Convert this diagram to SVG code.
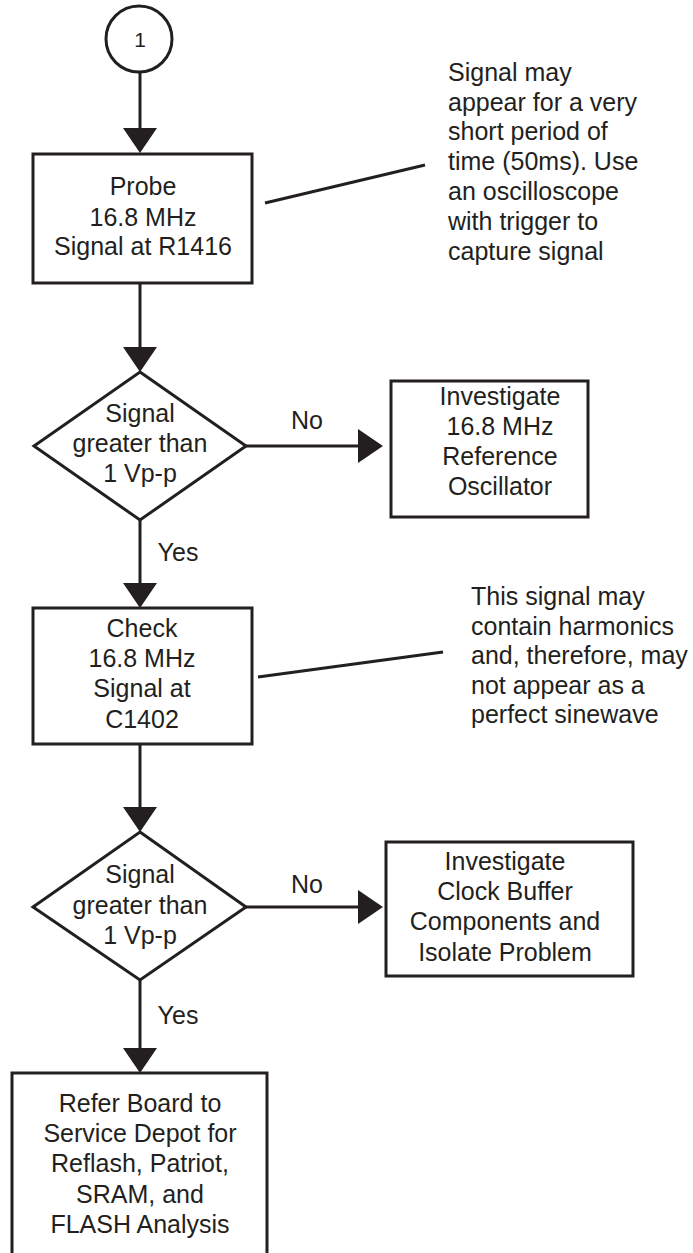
<svg xmlns="http://www.w3.org/2000/svg" width="693" height="1253" viewBox="0 0 693 1253">
  <style>
    .shape { fill: #ffffff; stroke: #231f20; stroke-width: 3; }
    .wire { fill: none; stroke: #231f20; stroke-width: 3; }
    .lbl { font-family: "Liberation Sans", Arial, sans-serif; font-size: 25px; fill: #231f20; text-anchor: middle; }
    .note { font-family: "Liberation Sans", Arial, sans-serif; font-size: 25px; fill: #231f20; }
    .num { font-size: 21px; }
  </style>
  <defs>
    <marker id="head" markerUnits="userSpaceOnUse" markerWidth="26" markerHeight="34" refX="0" refY="17" orient="auto">
      <path d="M0,0 L25,17 L0,34 z" fill="#231f20"/>
    </marker>
  </defs>

  <rect width="693" height="1253" fill="#ffffff"/>

  <!-- connectors -->
  <g id="connectors">
    <line class="wire" x1="140" y1="72" x2="140" y2="128" marker-end="url(#head)"/>
    <line class="wire" x1="140" y1="283" x2="140" y2="347" marker-end="url(#head)"/>
    <line class="wire" x1="246" y1="446" x2="358" y2="446" marker-end="url(#head)"/>
    <line class="wire" x1="140" y1="520" x2="140" y2="583" marker-end="url(#head)"/>
    <line class="wire" x1="140" y1="744" x2="140" y2="807" marker-end="url(#head)"/>
    <line class="wire" x1="246" y1="907" x2="358" y2="907" marker-end="url(#head)"/>
    <line class="wire" x1="140" y1="980" x2="140" y2="1048" marker-end="url(#head)"/>
    <!-- callout leaders -->
    <line class="wire" x1="265" y1="203" x2="425" y2="165"/>
    <line class="wire" x1="258" y1="677" x2="443" y2="652"/>
    <!-- branch labels -->
    <text class="lbl" x="307" y="429">No</text>
    <text class="lbl" x="178" y="561">Yes</text>
    <text class="lbl" x="307" y="893">No</text>
    <text class="lbl" x="178" y="1024">Yes</text>
  </g>

  <!-- connector 1 -->
  <g id="start">
    <circle class="shape" cx="139" cy="39" r="33"/>
    <text class="lbl num" x="140" y="47">1</text>
  </g>

  <g id="probe">
    <rect class="shape" x="33" y="154" width="219" height="129"/>
    <text class="lbl" x="143" y="195">Probe</text>
    <text class="lbl" x="143" y="226">16.8 MHz</text>
    <text class="lbl" x="143" y="255">Signal at R1416</text>
  </g>

  <g id="note-probe">
    <text class="note" x="448" y="81">Signal may</text>
    <text class="note" x="448" y="111">appear for a very</text>
    <text class="note" x="448" y="140">short period of</text>
    <text class="note" x="448" y="170">time (50ms). Use</text>
    <text class="note" x="448" y="200">an oscilloscope</text>
    <text class="note" x="448" y="230">with trigger to</text>
    <text class="note" x="448" y="260">capture signal</text>
  </g>

  <g id="decision-1">
    <polygon class="shape" points="140,372 246,446 140,520 34,446"/>
    <text class="lbl" x="140" y="422">Signal</text>
    <text class="lbl" x="140" y="452">greater than</text>
    <text class="lbl" x="140" y="482">1 Vp-p</text>
  </g>

  <g id="ref-osc">
    <rect class="shape" x="391" y="381" width="197" height="136"/>
    <text class="lbl" x="500" y="405">Investigate</text>
    <text class="lbl" x="500" y="435">16.8 MHz</text>
    <text class="lbl" x="500" y="465">Reference</text>
    <text class="lbl" x="500" y="495">Oscillator</text>
  </g>

  <g id="check">
    <rect class="shape" x="33" y="608" width="219" height="136"/>
    <text class="lbl" x="142" y="637">Check</text>
    <text class="lbl" x="142" y="667">16.8 MHz</text>
    <text class="lbl" x="142" y="697">Signal at</text>
    <text class="lbl" x="142" y="728">C1402</text>
  </g>

  <g id="note-check">
    <text class="note" x="471" y="605">This signal may</text>
    <text class="note" x="471" y="635">contain harmonics</text>
    <text class="note" x="471" y="664">and, therefore, may</text>
    <text class="note" x="471" y="694">not appear as a</text>
    <text class="note" x="471" y="723">perfect sinewave</text>
  </g>

  <g id="decision-2">
    <polygon class="shape" points="140,832 246,907 140,980 33,907"/>
    <text class="lbl" x="140" y="883">Signal</text>
    <text class="lbl" x="140" y="914">greater than</text>
    <text class="lbl" x="140" y="944">1 Vp-p</text>
  </g>

  <g id="clock-buffer">
    <rect class="shape" x="386" y="842" width="247" height="134"/>
    <text class="lbl" x="505" y="870">Investigate</text>
    <text class="lbl" x="505" y="900">Clock Buffer</text>
    <text class="lbl" x="505" y="930">Components and</text>
    <text class="lbl" x="505" y="961">Isolate Problem</text>
  </g>

  <g id="depot">
    <rect class="shape" x="12" y="1073" width="255" height="200"/>
    <text class="lbl" x="140" y="1112">Refer Board to</text>
    <text class="lbl" x="140" y="1142">Service Depot for</text>
    <text class="lbl" x="140" y="1172">Reflash, Patriot,</text>
    <text class="lbl" x="140" y="1203">SRAM, and</text>
    <text class="lbl" x="140" y="1233">FLASH Analysis</text>
  </g>
</svg>
